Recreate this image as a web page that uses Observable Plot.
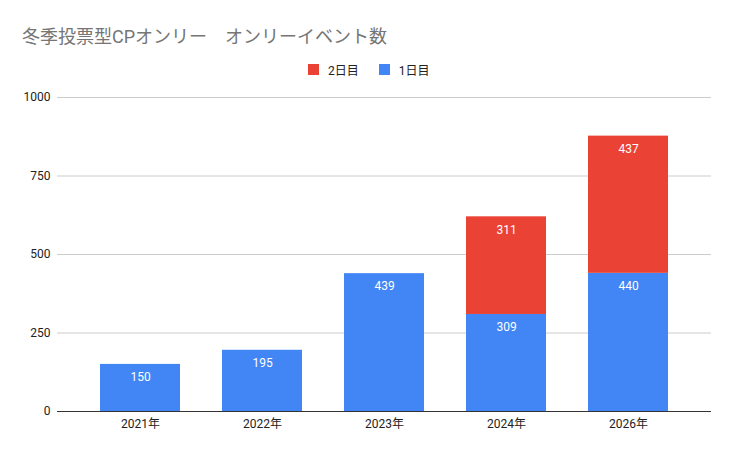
<!DOCTYPE html>
<html><head><meta charset="utf-8">
<script src="https://cdn.jsdelivr.net/npm/d3@7"></script>
<script src="https://cdn.jsdelivr.net/npm/@observablehq/plot@0.6"></script>
<style>
body{margin:0;background:#fff;font-family:Roboto,"Noto Sans CJK JP",sans-serif;}
#wrap{position:relative;width:734px;height:454px;}
#title{position:absolute;left:22px;top:22px;font-size:18px;color:#757575;white-space:nowrap;}
#legend{position:absolute;left:308px;top:61px;font-size:12px;color:#222;display:flex;align-items:center;}
#legend .sw{width:11px;height:11px;display:inline-block;margin-right:9px;}
#legend .it{display:flex;align-items:center;margin-right:20px;}
#chart{position:absolute;left:0;top:85px;}
</style></head><body>
<div id="wrap">
<div id="title">冬季投票型CPオンリー　オンリーイベント数</div>
<div id="legend"></div>
<div id="chart"></div>
</div>
<script>
const categories = ["2021年","2022年","2023年","2024年","2026年"];
const day1 = [150,195,439,309,440];
const day2 = [0,0,0,311,437];
const seriesNames = ["1日目","2日目"];
const colors = ["#4285F4","#EA4335"];
const yTicks = [0,250,500,750,1000];

const rows = [];
categories.forEach((c,i)=>{
  rows.push({cat:c, series:seriesNames[0], value:day1[i]});
  rows.push({cat:c, series:seriesNames[1], value:day2[i]});
});

const lg = document.getElementById("legend");
[[seriesNames[1],colors[1]],[seriesNames[0],colors[0]]].forEach(([n,c])=>{
  const it=document.createElement("span");it.className="it";
  it.innerHTML=`<span class="sw" style="background:${c}"></span>${n}`;
  lg.appendChild(it);
});

const plot = Plot.plot({
  width:734, height:356,
  marginLeft:57, marginRight:23, marginTop:12, marginBottom:30,
  style:{fontFamily:'Roboto,"Noto Sans CJK JP",sans-serif', fontSize:"12px", color:"#222"},
  x:{domain:categories, padding:0.346, label:null, tickSize:0, tickPadding:8},
  y:{domain:[0,1000], ticks:yTicks, label:null, tickSize:0, tickPadding:7, tickFormat:d=>String(d)},
  color:{domain:seriesNames, range:colors},
  marks:[
    Plot.gridY(yTicks.filter(d=>d>0),{stroke:"#cccccc", strokeOpacity:1}),
    Plot.barY(rows, Plot.stackY({x:"cat", y:"value", fill:"series", order:seriesNames})),
    Plot.ruleY([0],{stroke:"#333", strokeWidth:1}),
    Plot.text(rows, Plot.stackY2({x:"cat", y:"value", z:"series", order:seriesNames, text:d=>d.value>0?String(d.value):"", fill:"white", dy:13, fontSize:12})),
    Plot.axisX({tickSize:0, tickPadding:8, fontSize:12, label:null}),
    Plot.axisY(yTicks, {tickSize:0, tickPadding:7, fontSize:12, label:null, tickFormat:d=>String(d)})
  ]
});
document.getElementById("chart").appendChild(plot);
</script>
</body></html>
